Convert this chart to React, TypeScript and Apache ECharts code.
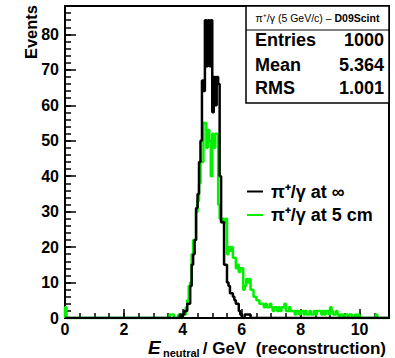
import React, { useEffect, useRef } from "react";
import * as echarts from "echarts";

// ---- axis setup ----
const X_MIN = 0;
const X_MAX = 11;
const BIN_WIDTH = 0.05;
const Y_MIN = 0;
const Y_MAX = 88;
const X_MAJOR = 2;
const X_MINOR = 0.5;
const Y_MAJOR = 10;
const Y_MINOR = 2;

// ---- histogram contents (counts per 0.05 GeV bin) ----
// black: pi+/gamma at infinity, bins starting at 3.90 GeV
const blackStart = 3.9;
const blackCounts = [
  1, 0, 1, 2, 2, 4, 4, 9, 15, 18, 22, 31, 35, 44, 50, 67, 64, 84, 71, 84, // 3.90 - 4.85
  71, 84, 58, 68, 60, 68, 66, 40, 27, 27, 15, 15, 10, 9, 7, 7, 6, 5, 4, 4, // 4.90 - 5.85
  2, 1, 0, 0, 1, 1, 1, 1, // 5.90 - 6.25
];

// green: pi+/gamma at 5 cm, low bin at 0 GeV and main part starting at 3.55 GeV
const greenLowStart = 0.0;
const greenLowCounts = [3];
const greenStart = 3.55;
const greenCounts = [
  1, 1, 1, 0, 0, 0, 1, 1, 0, // 3.55 - 3.95
  1, 1, 3, 5, 9, 10, 18, 22, 22, 30, 33, 38, 44, 44, 55, 55, 48, 53, 50, 40, // 4.00 - 4.95
  52, 48, 52, 52, 32, 28, 27, 28, 27, 28, 18, 20, 19, 20, 17, 17, 14, 15, 13, 14, // 5.00 - 5.95
  14, 8, 9, 11, 10, 11, 8, 8, 6, 6, 5, 5, 4, 4, 4, 3, 4, 3, 3, 4, // 6.00 - 6.95
  3, 2, 3, 3, 2, 3, 2, 3, 3, 4, 2, 2, 3, 2, 2, 2, 1, 2, 2, 1, // 7.00 - 7.95
  2, 2, 1, 2, 1, 1, 2, 1, 1, 2, 1, 2, 2, 2, 1, 2, 1, 2, 2, 1, // 8.00 - 8.95
  3, 2, 1, 1, 2, 1, 0, 1, 1, 0, 1, 1, 0, 1, 1, 0, 0, 1, 0, 1, // 9.00 - 9.95
  0, 0, 0, 0, 0, 0, 0, 0, 0, 0, 0, 1, // 10.00 - 10.55
];

// ---- texts ----
const legendLabels = ["π⁺/γ at ∞", "π⁺/γ at 5 cm"];
const statsTitleNormal = "π⁺/γ (5 GeV/c) – ";
const statsTitleBold = "D09Scint";
const statsNames = ["Entries", "Mean", "RMS"];
const statsValues = ["1000", "5.364", "1.001"];
const yTitle = "Events";
const xTitleMain = "E";
const xTitleSub = "neutral";
const xTitleRest = "/ GeV  (reconstruction)";

const FONT = "'Liberation Sans', Arial, Helvetica, sans-serif";
const GREEN = "#00f000";

function buildHist(segments: { start: number; counts: number[] }[]) {
  const nBins = Math.round((X_MAX - X_MIN) / BIN_WIDTH);
  const arr = new Array(nBins).fill(0);
  segments.forEach((seg) => {
    const s = Math.round((seg.start - X_MIN) / BIN_WIDTH);
    seg.counts.forEach((c, i) => {
      if (s + i < nBins) arr[s + i] = c;
    });
  });
  const data: number[][] = [[X_MIN, 0]];
  arr.forEach((c, i) => data.push([X_MIN + i * BIN_WIDTH, c]));
  data.push([X_MAX, 0]);
  return data;
}

export default function App() {
  const ref = useRef<HTMLDivElement>(null);
  useEffect(() => {
    if (!ref.current) return;
    const chart = echarts.init(ref.current, undefined, { renderer: "svg" });
    const blackData = buildHist([{ start: blackStart, counts: blackCounts }]);
    const greenData = buildHist([
      { start: greenLowStart, counts: greenLowCounts },
      { start: greenStart, counts: greenCounts },
    ]);
    const labelStyle = {
      color: "#000",
      fontSize: 16,
      fontWeight: "bold" as const,
      fontFamily: FONT,
    };
    const boxX = 246;
    const boxR = 389;
    const rowsY = [40, 65, 88];
    const option: any = {
      animation: false,
      backgroundColor: "#fff",
      grid: {
        left: 65,
        right: 6,
        top: 6,
        bottom: 40,
        show: true,
        borderColor: "#000",
        borderWidth: 2,
        backgroundColor: "transparent",
      },
      xAxis: [
        {
          type: "value",
          min: X_MIN,
          max: X_MAX,
          interval: X_MAJOR,
          axisLine: { show: true, onZero: false, lineStyle: { color: "#000", width: 2 } },
          axisTick: { show: true, inside: true, length: 9, lineStyle: { color: "#000", width: 1.5 } },
          axisLabel: { ...labelStyle, margin: 3, showMaxLabel: false },
          splitLine: { show: false },
        },
        {
          type: "value",
          min: X_MIN,
          max: X_MAX,
          interval: X_MINOR,
          position: "bottom",
          axisLine: { show: false },
          axisTick: { show: true, inside: true, length: 5, lineStyle: { color: "#000", width: 1.5 } },
          axisLabel: { show: false },
          splitLine: { show: false },
        },
      ],
      yAxis: [
        {
          type: "value",
          min: Y_MIN,
          max: Y_MAX,
          interval: Y_MAJOR,
          axisLine: { show: true, onZero: false, lineStyle: { color: "#000", width: 2 } },
          axisTick: { show: true, inside: true, length: 11, lineStyle: { color: "#000", width: 1.5 } },
          axisLabel: { ...labelStyle, margin: 6, showMaxLabel: false },
          splitLine: { show: false },
        },
        {
          type: "value",
          min: Y_MIN,
          max: Y_MAX,
          interval: Y_MINOR,
          position: "left",
          axisLine: { show: false },
          axisTick: { show: true, inside: true, length: 6, lineStyle: { color: "#000", width: 1.5 } },
          axisLabel: { show: false },
          splitLine: { show: false },
        },
      ],
      series: [
        {
          type: "line",
          name: legendLabels[1],
          data: greenData,
          step: "end",
          symbol: "none",
          xAxisIndex: 0,
          yAxisIndex: 0,
          lineStyle: { color: GREEN, width: 2.5 },
          z: 2,
        },
        {
          type: "line",
          name: legendLabels[0],
          data: blackData,
          step: "end",
          symbol: "none",
          xAxisIndex: 0,
          yAxisIndex: 0,
          lineStyle: { color: "#000", width: 2.5 },
          z: 3,
        },
      ],
      graphic: [
        // stats box
        {
          type: "rect",
          z: 100,
          shape: { x: boxX, y: 6, width: boxR - boxX, height: 97 },
          style: { fill: "#fff", stroke: "#000", lineWidth: 1.5 },
        },
        {
          type: "line",
          z: 101,
          shape: { x1: boxX, y1: 30, x2: boxR, y2: 30 },
          style: { stroke: "#000", lineWidth: 1.2 },
        },
        {
          type: "text",
          z: 102,
          x: (boxX + boxR) / 2,
          y: 18,
          style: {
            text: `{n|${statsTitleNormal}}{b|${statsTitleBold}}`,
            align: "center",
            verticalAlign: "middle",
            rich: {
              n: { fontSize: 10.5, fontFamily: FONT, fill: "#000" },
              b: { fontSize: 10.5, fontWeight: "bold", fontFamily: FONT, fill: "#000" },
            },
          },
        },
        ...statsNames.map((n, i) => ({
          type: "text",
          z: 102,
          x: 255,
          y: rowsY[i],
          style: {
            text: n,
            align: "left",
            verticalAlign: "middle",
            fontSize: 18,
            fontWeight: "bold",
            fontFamily: FONT,
            fill: "#000",
          },
        })),
        ...statsValues.map((v, i) => ({
          type: "text",
          z: 102,
          x: 384,
          y: rowsY[i],
          style: {
            text: v,
            align: "right",
            verticalAlign: "middle",
            fontSize: 18,
            fontWeight: "bold",
            fontFamily: FONT,
            fill: "#000",
          },
        })),
        // legend
        {
          type: "line",
          z: 100,
          shape: { x1: 247, y1: 191.5, x2: 263, y2: 191.5 },
          style: { stroke: "#000", lineWidth: 2 },
        },
        {
          type: "text",
          z: 100,
          x: 271,
          y: 191.5,
          style: {
            text: legendLabels[0],
            align: "left",
            verticalAlign: "middle",
            fontSize: 18,
            fontWeight: "bold",
            fontFamily: FONT,
            fill: "#000",
          },
        },
        {
          type: "line",
          z: 100,
          shape: { x1: 247, y1: 215, x2: 263, y2: 215 },
          style: { stroke: GREEN, lineWidth: 2 },
        },
        {
          type: "text",
          z: 100,
          x: 271,
          y: 215,
          style: {
            text: legendLabels[1],
            align: "left",
            verticalAlign: "middle",
            fontSize: 18,
            fontWeight: "bold",
            fontFamily: FONT,
            fill: "#000",
          },
        },
        // y axis title
        {
          type: "text",
          z: 100,
          x: 31,
          y: 5,
          rotation: Math.PI / 2,
          style: {
            text: yTitle,
            align: "right",
            verticalAlign: "middle",
            fontSize: 16.5,
            fontWeight: "bold",
            fontFamily: FONT,
            fill: "#000",
          },
        },
        // x axis title
        {
          type: "text",
          z: 100,
          x: 148,
          y: 347,
          style: {
            text: xTitleMain,
            align: "left",
            verticalAlign: "middle",
            fontSize: 19,
            fontWeight: "bold",
            fontStyle: "italic",
            fontFamily: FONT,
            fill: "#000",
          },
        },
        {
          type: "text",
          z: 100,
          x: 163,
          y: 353,
          style: {
            text: xTitleSub,
            align: "left",
            verticalAlign: "middle",
            fontSize: 11,
            fontWeight: "bold",
            fontFamily: FONT,
            fill: "#000",
          },
        },
        {
          type: "text",
          z: 100,
          x: 386,
          y: 348,
          style: {
            text: xTitleRest,
            align: "right",
            verticalAlign: "middle",
            fontSize: 17,
            fontWeight: "bold",
            fontFamily: FONT,
            fill: "#000",
          },
        },
      ],
    };
    chart.setOption(option);
    return () => chart.dispose();
  }, []);
  return (
    <div
      ref={ref}
      style={{ position: "fixed", left: 0, top: 0, width: 395, height: 358, background: "#fff" }}
    />
  );
}
